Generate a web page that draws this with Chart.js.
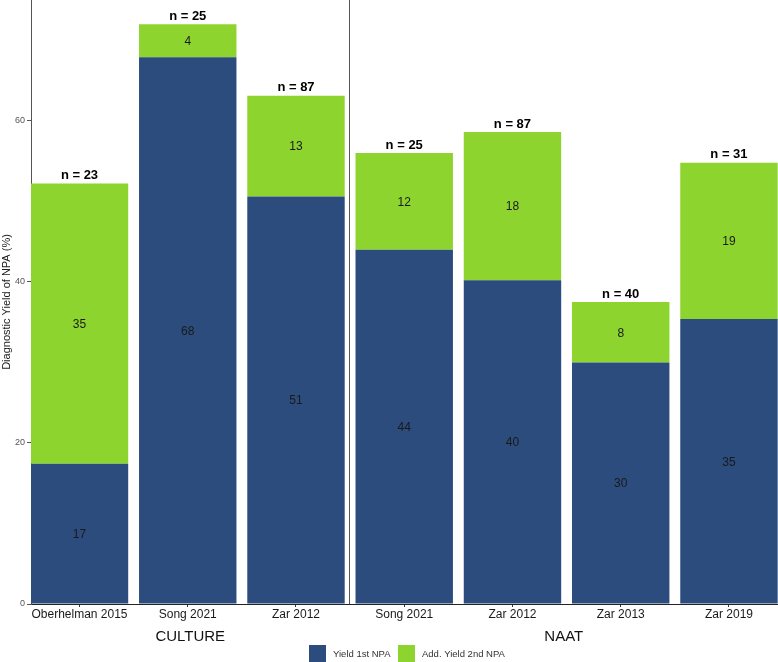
<!DOCTYPE html>
<html>
<head>
<meta charset="utf-8">
<script src="https://cdn.jsdelivr.net/npm/chart.js@4.4.1/dist/chart.umd.min.js"></script>
<style>
  html, body { margin: 0; padding: 0; background: #fff; overflow: hidden; }
  #wrap { position: relative; width: 778px; height: 662px; }
</style>
</head>
<body>
<div id="wrap"><canvas id="chartYield"></canvas></div>
<script>
// ===== DADOS =====
const estudos = ['Oberhelman 2015', 'Song 2021', 'Zar 2012', 'Song 2021', 'Zar 2012', 'Zar 2013', 'Zar 2019'];
const grupos = ['CULTURE', 'NAAT'];
const grupoTamanho = [3, 4];
const yield1 = [17.4, 67.9, 50.6, 44.0, 40.2, 30.0, 35.4];
const yield2 = [34.8, 4.1, 12.5, 12.0, 18.4, 7.5, 19.4];
const rotulo1 = ['17', '68', '51', '44', '40', '30', '35'];
const rotulo2 = ['35', '4', '13', '12', '18', '8', '19'];
const amostras = [23, 25, 87, 25, 87, 40, 31];
const yTicks = [0, 20, 40, 60];

const FONTE = '"Liberation Sans", Arial, Helvetica, sans-serif';

// ===== PLUGIN: rótulos, separador, grupos e legenda =====
const pluginRotulos = {
    id: 'rotulos',
    afterDatasetsDraw(chart) {
        const ctx = chart.ctx;
        const area = chart.chartArea;
        const x = chart.scales.x;
        const rotulos = [rotulo1, rotulo2];

        ctx.save();
        ctx.textAlign = 'center';
        ctx.textBaseline = 'middle';

        // valores dentro das barras
        ctx.font = '12px ' + FONTE;
        ctx.fillStyle = '#1a1a1a';
        chart.data.datasets.forEach((ds, d) => {
            chart.getDatasetMeta(d).data.forEach((bar, i) => {
                ctx.fillText(rotulos[d][i], bar.x, (bar.y + bar.base) / 2 + 1);
            });
        });

        // n = X acima das barras
        ctx.font = 'bold 13px ' + FONTE;
        ctx.fillStyle = '#000';
        const topo = chart.getDatasetMeta(1).data;
        topo.forEach((bar, i) => {
            ctx.fillText('n = ' + amostras[i], bar.x, bar.y - 8);
        });

        // separador entre os painéis
        const sep = Math.round(x.getPixelForValue(grupoTamanho[0] - 0.5)) - 0.5;
        ctx.strokeStyle = '#555';
        ctx.lineWidth = 1;
        ctx.beginPath();
        ctx.moveTo(sep, area.top);
        ctx.lineTo(sep, area.bottom);
        ctx.stroke();

        // nomes dos grupos
        ctx.font = '15px ' + FONTE;
        ctx.fillStyle = '#111';
        ctx.fillText(grupos[0], (area.left + sep) / 2, 637);
        ctx.fillText(grupos[1], (sep + area.right) / 2, 637);

        // legenda
        ctx.font = '9.5px ' + FONTE;
        ctx.textAlign = 'left';
        const posLegenda = [309, 398];
        chart.data.datasets.forEach((ds, d) => {
            ctx.fillStyle = ds.backgroundColor;
            ctx.fillRect(posLegenda[d], 645, 17, 17);
            ctx.fillStyle = '#333';
            ctx.fillText(ds.label, posLegenda[d] + 24, 654);
        });
        ctx.restore();
    }
};

// ===== GRÁFICO =====
const ctxYield = document.getElementById('chartYield').getContext('2d');
const chartYield = new Chart(ctxYield, {
    type: 'bar',
    data: {
        datasets: [{
            label: 'Yield 1st NPA',
            data: yield1.map((v, i) => ({ x: i, y: v })),
            backgroundColor: '#2b4c7c',
            borderWidth: 0
        }, {
            label: 'Add. Yield 2nd NPA',
            data: yield2.map((v, i) => ({ x: i, y: v })),
            backgroundColor: '#8dd42f',
            borderWidth: 0
        }]
    },
    options: {
        responsive: true,
        maintainAspectRatio: false,
        animation: false,
        layout: { padding: 0 },
        barPercentage: 0.9,
        categoryPercentage: 1.0,
        plugins: {
            legend: { display: false },
            tooltip: { enabled: false }
        },
        scales: {
            x: {
                type: 'linear',
                stacked: true,
                offset: false,
                min: -0.448,
                max: 6.453,
                afterBuildTicks: (scale) => { scale.ticks = estudos.map((e, i) => ({ value: i })); },
                afterFit: (scale) => {
                    scale.height = 58;
                    scale.paddingLeft = 0;
                    scale.paddingRight = 0;
                },
                ticks: {
                    callback: (v) => estudos[v],
                    autoSkip: false,
                    maxRotation: 0,
                    padding: 0,
                    color: '#1a1a1a',
                    font: { family: FONTE, size: 12 }
                },
                grid: { offset: false, drawOnChartArea: false, tickLength: 3, color: '#333' },
                border: { color: '#222', width: 1 }
            },
            y: {
                stacked: true,
                min: 0,
                max: 75,
                afterBuildTicks: (scale) => { scale.ticks = yTicks.map(v => ({ value: v })); },
                afterFit: (scale) => {
                    scale.width = 31;
                    scale.paddingTop = 0;
                    scale.paddingBottom = 0;
                },
                ticks: {
                    padding: 2,
                    color: '#555',
                    font: { family: FONTE, size: 9 }
                },
                grid: { drawOnChartArea: false, tickLength: 4, color: '#555' },
                border: { color: '#555', width: 1 },
                title: {
                    display: true,
                    text: 'Diagnostic Yield of NPA (%)',
                    color: '#1a1a1a',
                    padding: { top: 0, bottom: 0 },
                    font: { family: FONTE, size: 11 }
                }
            }
        }
    },
    plugins: [pluginRotulos]
});
</script>
</body>
</html>
